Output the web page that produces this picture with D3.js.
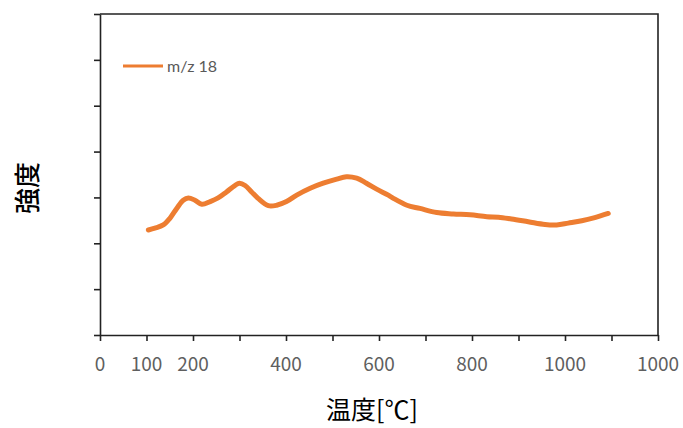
<!DOCTYPE html>
<html lang="ja">
<head>
<meta charset="UTF-8">
<title>m/z 18</title>
<script src="https://d3js.org/d3.v7.min.js"></script>
<style>
  body { margin: 0; background: #fff; }
  .tick-label { font-family: "Noto Sans CJK JP", sans-serif; font-weight: 400; fill: #5f5f5f; }
  .title { font-family: "Noto Sans CJK JP", sans-serif; fill: #000; }
  .legend { font-family: Lato, "Open Sans", sans-serif; fill: #595959; }
</style>
</head>
<body>
<div id="chart"></div>
<script>
// temperature [°C] and intensity (arbitrary units)
const temps = [104, 118, 136, 150, 165, 179, 190, 204, 219, 237, 254, 272, 290, 300, 312, 326, 340, 362,
  380, 401, 423, 452, 480, 509, 530, 552, 573, 595, 620, 631, 660, 688, 724, 760, 796, 832, 857,
  885, 921, 957, 982, 1007, 1036, 1064, 1093]
const mz18 = [2.29, 2.33, 2.40, 2.54, 2.76, 2.94, 2.99, 2.94, 2.85, 2.91, 2.99, 3.12, 3.26, 3.31, 3.26, 3.12, 2.98, 2.82,
  2.83, 2.91, 3.05, 3.20, 3.31, 3.40, 3.45, 3.42, 3.31, 3.18, 3.05, 2.98, 2.83, 2.76, 2.67, 2.64, 2.62, 2.58, 2.57,
  2.53, 2.47, 2.41, 2.40, 2.44, 2.49, 2.56, 2.65]
const xTicks = [0, 100, 200, 300, 400, 500, 600, 700, 800, 900, 1000, 1100, 1200]
const xTickLabels = ["0", "100", "200", "", "400", "", "600", "", "800", "", "1000", "", "1000"]
const yTicks = [0, 1, 2, 3, 4, 5, 6, 7]
const seriesName = "m/z 18"

const W = 683, H = 428
const plot = {left: 100, right: 658, top: 14, bottom: 335}
const orange = "#ED7D31"

const svg = d3.select("#chart").append("svg")
    .attr("width", W)
    .attr("height", H)

const x = d3.scaleLinear().domain([0, 1200]).range([plot.left, plot.right])
const y = d3.scaleLinear().domain([0, 7]).range([plot.bottom, plot.top])

// frame: top and right edges
svg.append("path")
    .attr("d", `M${plot.left},${plot.top}H${plot.right}V${plot.bottom}`)
    .attr("fill", "none")
    .attr("stroke", "#222")
    .attr("stroke-width", 1.6)

// x axis
const xAxis = svg.append("g")
    .attr("transform", `translate(0,${plot.bottom})`)
    .call(d3.axisBottom(x).tickValues(xTicks).tickSize(6).tickSizeOuter(0).tickFormat(""))
xAxis.selectAll("path, line").attr("stroke", "#222").attr("stroke-width", 1.6)
svg.append("g").selectAll("text")
    .data(xTicks)
    .join("text")
      .attr("class", "tick-label")
      .attr("x", d => x(d))
      .attr("y", 371)
      .attr("text-anchor", "middle")
      .attr("font-size", 19)
      .text((d, i) => xTickLabels[i])

// y axis, no labels
const yAxis = svg.append("g")
    .attr("transform", `translate(${plot.left},0)`)
    .call(d3.axisLeft(y).tickValues(yTicks).tickSize(6).tickSizeOuter(0).tickFormat(""))
yAxis.selectAll("path, line").attr("stroke", "#222").attr("stroke-width", 1.6)

// series
const pts = temps.map((t, i) => [t, mz18[i]])
svg.append("path")
    .datum(pts)
    .attr("fill", "none")
    .attr("stroke", orange)
    .attr("stroke-width", 5)
    .attr("stroke-linejoin", "round")
    .attr("stroke-linecap", "round")
    .attr("d", d3.line().x(d => x(d[0])).y(d => y(d[1])).curve(d3.curveCatmullRom))

// legend
svg.append("line")
    .attr("x1", 123).attr("x2", 163)
    .attr("y1", 66).attr("y2", 66)
    .attr("stroke", orange)
    .attr("stroke-width", 3)
svg.append("text")
    .attr("class", "legend")
    .attr("x", 167)
    .attr("y", 72)
    .attr("font-size", 16)
    .text(seriesName)

// axis titles
svg.append("text")
    .attr("class", "title")
    .attr("x", 372)
    .attr("y", 419)
    .attr("text-anchor", "middle")
    .attr("font-size", 25)
    .text("温度[℃]")
svg.append("text")
    .attr("class", "title")
    .attr("transform", "translate(37,188) rotate(-90)")
    .attr("text-anchor", "middle")
    .attr("font-size", 26)
    .attr("font-weight", 500)
    .text("強度")
</script>
</body>
</html>
